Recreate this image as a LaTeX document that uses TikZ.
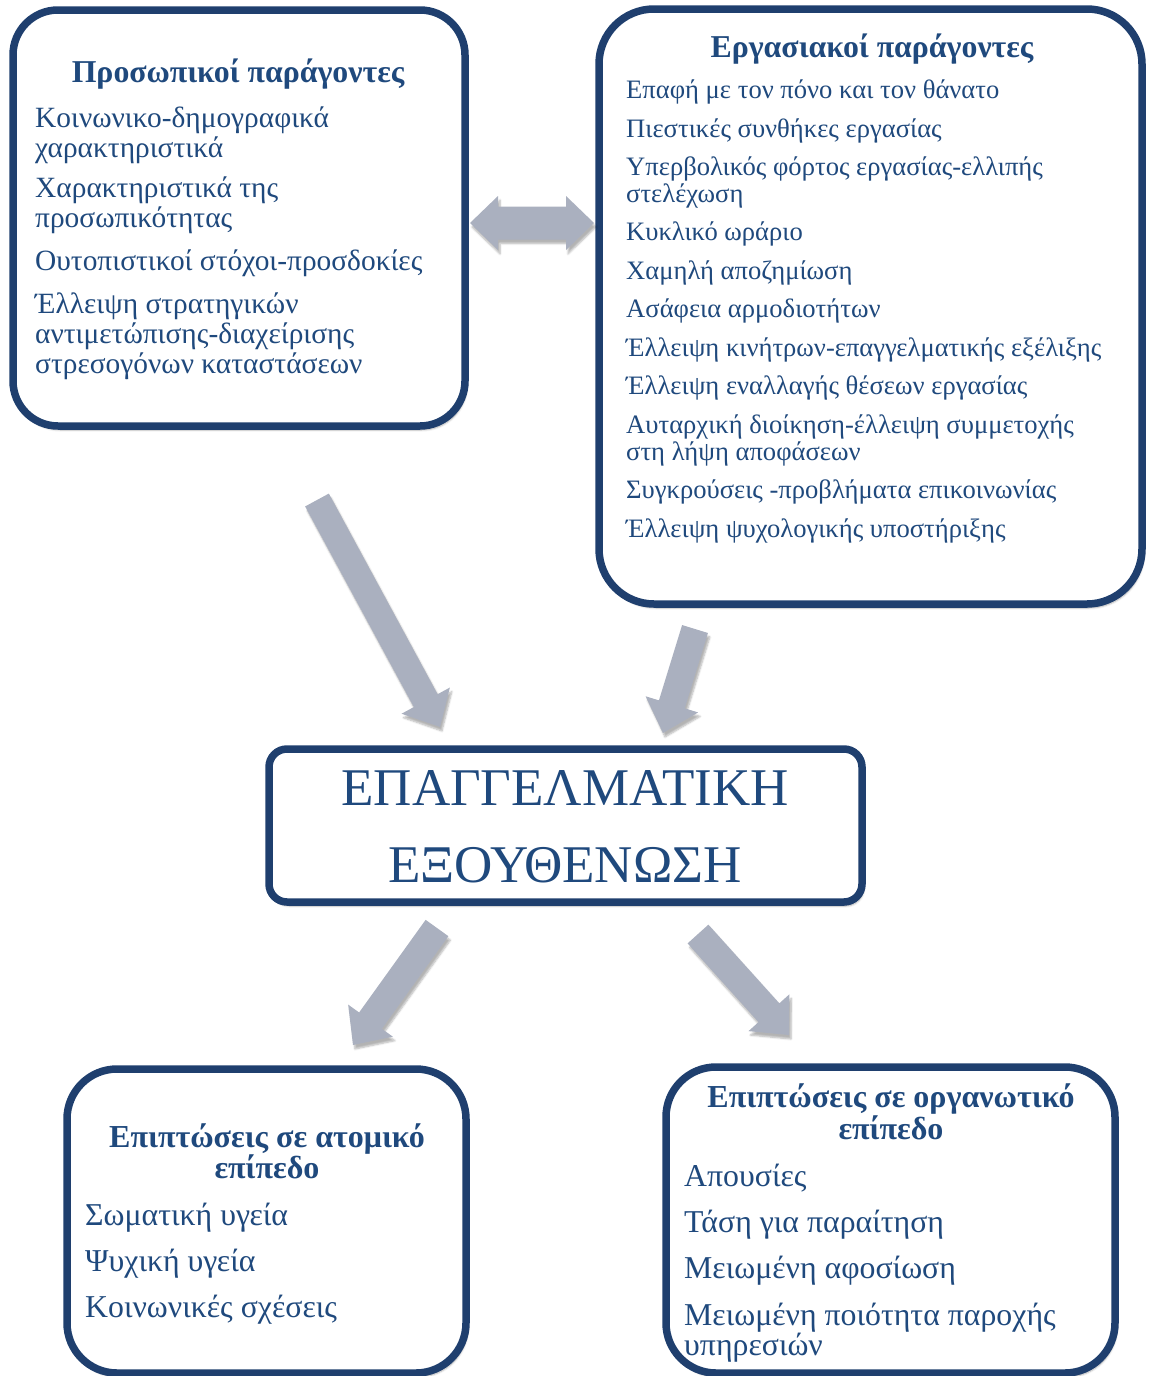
\documentclass[tikz,border=0pt]{standalone}
\usepackage{fontspec}
\setmainfont{Liberation Serif}
\usetikzlibrary{calc,shadows.blur}
\definecolor{bordc}{HTML}{1F3F6E}
\definecolor{txtc}{HTML}{1F497D}
\definecolor{arrc}{HTML}{AAB0BF}
\tikzset{
  shad/.style={blur shadow={shadow xshift=2pt, shadow yshift=-4pt, shadow blur steps=6, shadow opacity=30}},
  box/.style={draw=bordc, line width=7.5pt, fill=white, rounded corners=#1, shad, inner sep=0pt},
  box/.default=45pt,
  ttl/.style={text=txtc, font=\bfseries\fontsize{31.8}{33}\selectfont, anchor=base, inner sep=0pt},
  itmA/.style={text=txtc, font=\fontsize{29.4}{30}\selectfont, anchor=base west, inner sep=0pt},
  itmB/.style={text=txtc, font=\fontsize{26.6}{27}\selectfont, anchor=base west, inner sep=0pt},
  itmC/.style={text=txtc, font=\fontsize{31.8}{32}\selectfont, anchor=base west, inner sep=0pt},
  ttlC/.style={text=txtc, font=\bfseries\fontsize{32}{33}\selectfont, anchor=base, inner sep=0pt},
  big/.style={text=txtc, font=\fontsize{53}{60}\selectfont, anchor=base, inner sep=0pt},
  arrowfill/.style={fill=arrc, shad}
}
\newcommand\blockarrow[4]{% tail, tip, shaft half width, head half width
  \coordinate (hb) at ($(#2)!30pt!(#1)$);
  \fill[arrowfill] ($(#1)!#3!90:(#2)$) -- ($(hb)!#3!90:(#2)$) -- ($(hb)!#4!90:(#2)$) -- (#2)
    -- ($(hb)!#4!-90:(#2)$) -- ($(hb)!#3!-90:(#2)$) -- ($(#1)!#3!-90:(#2)$) -- cycle;
}
\begin{document}
\begin{tikzpicture}[x=1pt,y=-1pt]
\useasboundingbox (0,0) rectangle (1149,1376);

% ---- boxes ----
\node[box=45pt, minimum width=452pt, minimum height=416pt] (pers) at (239,218) {};
\node[box=55pt, minimum width=543pt, minimum height=595pt] (work) at (870.5,306.5) {};
\node[box=18pt, minimum width=593pt, minimum height=153pt] (burn) at (565.5,825.5) {};
\node[box=50pt, minimum width=399pt, minimum height=304pt] (indiv) at (266.5,1221) {};
\node[box=50pt, minimum width=449pt, minimum height=306pt] (org) at (890.5,1220) {};

% ---- box 1 text ----
\node[ttl] (pt) at (238,82) {Προσωπικοί παράγοντες};
\node[itmA] (p1a) at (35,127) {Κοινωνικο-δημογραφικά};
\node[itmA] (p1b) at (35,157) {χαρακτηριστικά};
\node[itmA] (p2a) at (35,197) {Χαρακτηριστικά της};
\node[itmA] (p2b) at (35,227) {προσωπικότητας};
\node[itmA] (p3) at (35,270) {Ουτοπιστικοί στόχοι-προσδοκίες};
\node[itmA] (p4a) at (35,313) {Έλλειψη στρατηγικών};
\node[itmA] (p4b) at (35,343) {αντιμετώπισης-διαχείρισης};
\node[itmA] (p4c) at (35,373) {στρεσογόνων καταστάσεων};

% ---- box 2 text ----
\node[ttl] (wt) at (872,57) {Εργασιακοί παράγοντες};
\node[itmB] (w1) at (626,98) {Επαφή με τον πόνο και τον θάνατο};
\node[itmB] (w2) at (626,137) {Πιεστικές συνθήκες εργασίας};
\node[itmB] (w3a) at (626,175) {Υπερβολικός φόρτος εργασίας-ελλιπής};
\node[itmB] (w3b) at (626,202) {στελέχωση};
\node[itmB] (w4) at (626,240) {Κυκλικό ωράριο};
\node[itmB] (w5) at (626,279) {Χαμηλή αποζημίωση};
\node[itmB] (w6) at (626,317) {Ασάφεια αρμοδιοτήτων};
\node[itmB] (w7) at (626,356) {Έλλειψη κινήτρων-επαγγελματικής εξέλιξης};
\node[itmB] (w8) at (626,394) {Έλλειψη εναλλαγής θέσεων εργασίας};
\node[itmB] (w9a) at (626,433) {Αυταρχική διοίκηση-έλλειψη συμμετοχής};
\node[itmB] (w9b) at (626,460) {στη λήψη αποφάσεων};
\node[itmB] (w10) at (626,498) {Συγκρούσεις -προβλήματα επικοινωνίας};
\node[itmB] (w11) at (626,537) {Έλλειψη ψυχολογικής υποστήριξης};

% ---- central text ----
\node[big] (b1) at (565,805) {ΕΠΑΓΓΕΛΜΑΤΙΚΗ};
\node[big] (b2) at (565,882) {ΕΞΟΥΘΕΝΩΣΗ};

% ---- bottom left ----
\node[ttlC] (it1) at (267,1147) {Επιπτώσεις σε ατομικό};
\node[ttlC] (it2) at (267,1178) {επίπεδο};
\node[itmC] (i1) at (85,1225) {Σωματική υγεία};
\node[itmC] (i2) at (85,1271) {Ψυχική υγεία};
\node[itmC] (i3) at (85,1317) {Κοινωνικές σχέσεις};

% ---- bottom right ----
\node[ttlC] (ot1) at (891,1107) {Επιπτώσεις σε οργανωτικό};
\node[ttlC] (ot2) at (891,1139) {επίπεδο};
\node[itmC] (o1) at (684,1186) {Απουσίες};
\node[itmC] (o2) at (684,1232) {Τάση για παραίτηση};
\node[itmC] (o3) at (684,1278) {Μειωμένη αφοσίωση};
\node[itmC] (o4a) at (684,1325) {Μειωμένη ποιότητα παροχής};
\node[itmC] (o4b) at (684,1355) {υπηρεσιών};

% ---- arrows ----
\coordinate (dl) at (470,223);
\coordinate (dr) at (594,223);
\fill[arrowfill] (dl) -- ($(dl)+(28,-27)$) -- ($(dl)+(28,-16.5)$) -- ($(dr)+(-28,-16.5)$)
  -- ($(dr)+(-28,-27)$) -- (dr) -- ($(dr)+(-28,27)$) -- ($(dr)+(-28,16.5)$)
  -- ($(dl)+(28,16.5)$) -- ($(dl)+(28,27)$) -- cycle;

\coordinate (a1t) at (317,500);  \coordinate (a1h) at (440,727);
\coordinate (a2t) at (695,629);  \coordinate (a2h) at (663,733);
\coordinate (a3t) at (437,928);  \coordinate (a3h) at (353,1045);
\coordinate (a4t) at (698,934);  \coordinate (a4h) at (789,1035);
\blockarrow{a1t}{a1h}{13.5pt}{27.5pt}
\blockarrow{a2t}{a2h}{13.5pt}{27.5pt}
\blockarrow{a3t}{a3h}{14pt}{27.5pt}
\blockarrow{a4t}{a4h}{14pt}{27.5pt}
\end{tikzpicture}
\end{document}
